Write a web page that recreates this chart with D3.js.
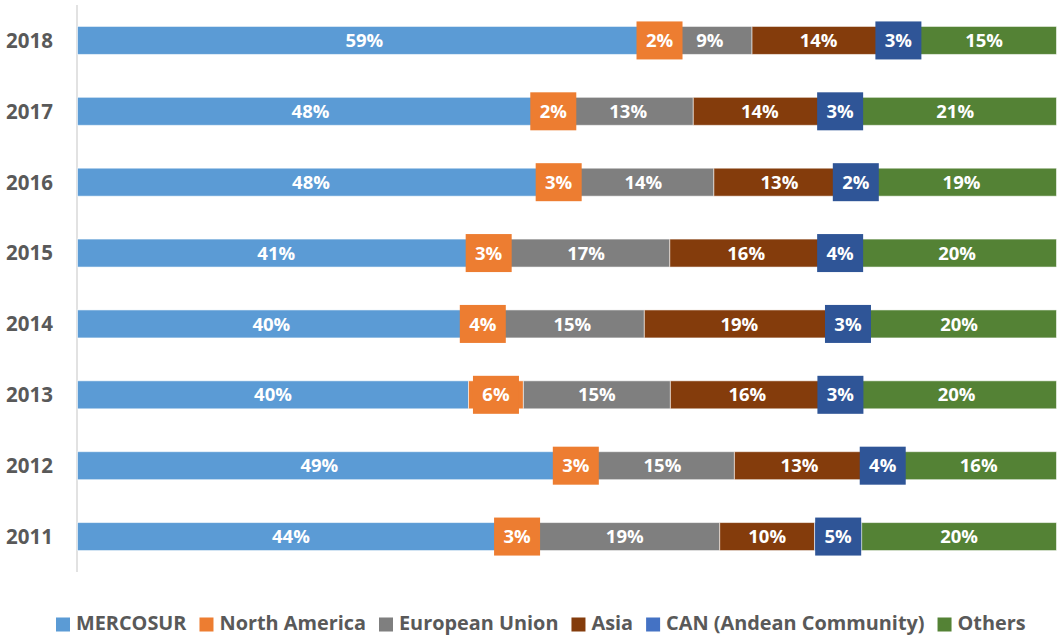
<!DOCTYPE html>
<html>
<head>
<meta charset="utf-8">
<script src="https://cdn.jsdelivr.net/npm/d3@7"></script>
<style>
  html, body { margin: 0; padding: 0; background: #fff; }
  svg { display: block; font-family: "Open Sans", sans-serif; }
</style>
</head>
<body>
<svg id="chart" width="1058" height="635"></svg>
<script>
// ---- Data (shares in %, estimated from the bar segments; labels are rounded) ----
const years = ["2018", "2017", "2016", "2015", "2014", "2013", "2012", "2011"];
const seriesNames = ["MERCOSUR", "North America", "European Union", "Asia", "CAN (Andean Community)", "Others"];
const mercosur      = [58.6, 47.6, 47.7, 40.6, 39.6, 39.9, 49.4, 43.6];
const northAmerica  = [1.7, 2.0, 2.9, 2.8, 3.6, 5.6, 3.0, 2.6];
const europeanUnion = [8.6, 13.3, 14.4, 17.1, 14.7, 15.0, 14.7, 19.4];
const asia          = [13.6, 13.6, 13.4, 15.6, 19.4, 15.7, 13.3, 9.7];
const can           = [2.7, 2.8, 2.2, 3.6, 2.8, 3.3, 3.7, 4.8];
const others        = [14.8, 20.7, 19.4, 20.3, 19.9, 20.4, 15.9, 19.9];

const seriesValues = [mercosur, northAmerica, europeanUnion, asia, can, others];
const colors = ["#5B9BD5", "#ED7D31", "#7F7F7F", "#843C0C", "#4472C4", "#548235"];
const boxColors = [null, "#ED7D31", null, null, "#2F5597", null];

const table = years.map((y, i) => {
  const row = { year: y };
  seriesNames.forEach((s, j) => row[s] = seriesValues[j][i]);
  return row;
});

const svg = d3.select("#chart");

const x = d3.scaleLinear().domain([0, 1]).range([77.5, 1056.5]);
const y = d3.scaleBand().domain(years).range([5, 572]).paddingInner(0.605).paddingOuter(0.3025);

const stack = d3.stack().keys(seriesNames).offset(d3.stackOffsetExpand);
const stacked = stack(table);

// axis line
svg.append("line")
  .attr("x1", 77).attr("x2", 77).attr("y1", 5).attr("y2", 572)
  .attr("stroke", "#D9D9D9").attr("stroke-width", 1.5);

// year labels
const yAxis = d3.axisLeft(y).tickSize(0).tickPadding(0);
const gy = svg.append("g").attr("transform", "translate(53,0)").call(yAxis);
gy.select(".domain").remove();
gy.selectAll("text")
  .attr("font-family", "Open Sans")
  .attr("font-size", 20.5).attr("font-weight", 700).attr("fill", "#595959")
  .attr("dy", "0.36em");

// bars
const layers = svg.append("g").selectAll("g")
  .data(stacked).join("g")
  .attr("fill", (d, i) => colors[i]);

layers.selectAll("rect")
  .data(d => d.map(p => Object.assign(p, { key: d.key })))
  .join("rect")
  .attr("x", d => x(d[0]))
  .attr("width", d => x(d[1]) - x(d[0]))
  .attr("y", d => y(d.data.year))
  .attr("height", y.bandwidth())
  .attr("stroke", "#ffffff").attr("stroke-opacity", 0.55).attr("stroke-width", 1);

// labels
const fmt = v => Math.round(v) + "%";
const labelG = svg.append("g");
stacked.forEach((layer, i) => {
  layer.forEach(p => {
    const cx = (x(p[0]) + x(p[1])) / 2;
    const cy = y(p.data.year) + y.bandwidth() / 2;
    if (boxColors[i]) {
      labelG.append("rect")
        .attr("x", cx - 23).attr("y", cy - 19)
        .attr("width", 46).attr("height", 38)
        .attr("fill", boxColors[i]);
    }
    labelG.append("text")
      .attr("x", cx).attr("y", cy)
      .attr("dy", "0.36em")
      .attr("text-anchor", "middle")
      .attr("font-size", 18.5).attr("font-weight", 700)
      .attr("fill", "#ffffff")
      .text(fmt(p.data[layer.key]));
  });
});

// legend
const legend = svg.append("g");
const fs = 20;
const items = seriesNames.map((name, i) => {
  const g = legend.append("g");
  g.append("rect").attr("width", 14).attr("height", 14).attr("y", -12).attr("fill", colors[i]);
  const t = g.append("text").attr("x", 20).attr("font-size", fs).attr("font-weight", 700)
    .attr("fill", "#595959").text(name);
  return { g, t };
});
const targetStart = 56, targetEnd = 1026;
let widths = items.map(it => it.t.node().getComputedTextLength());
const fixed = items.length * 20 + (items.length - 1) * 13;
const scaleF = (targetEnd - targetStart - fixed) / d3.sum(widths);
const fs2 = fs * scaleF;
items.forEach(it => it.t.attr("font-size", fs2));
widths = items.map(it => it.t.node().getComputedTextLength());
let cxp = targetStart;
items.forEach((it, i) => {
  it.g.attr("transform", `translate(${cxp},629.5)`);
  cxp += 20 + widths[i] + 13;
});
</script>
</body>
</html>
